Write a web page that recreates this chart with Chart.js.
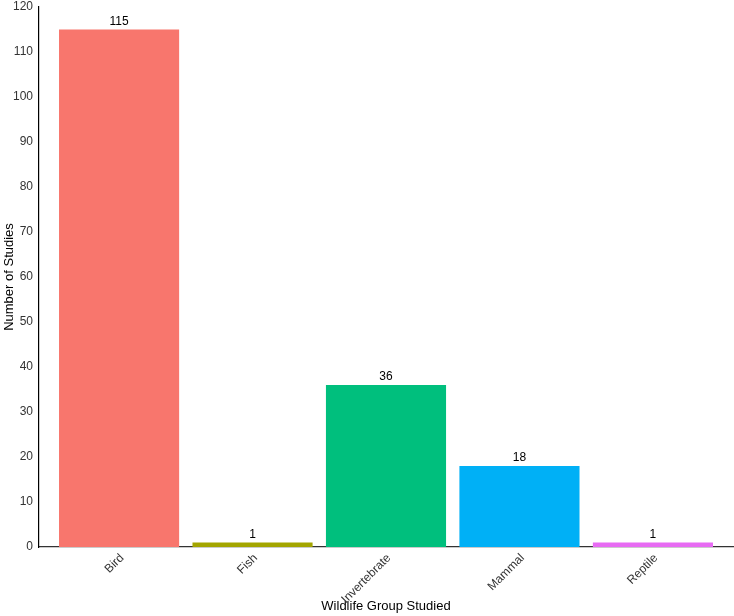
<!DOCTYPE html>
<html>
<head>
<meta charset="utf-8">
<script src="https://cdn.jsdelivr.net/npm/chart.js@4"></script>
<style>
  html, body { margin: 0; padding: 0; background: #fff; }
  #wrap { width: 734px; height: 616px; }
</style>
</head>
<body>
<div id="wrap"><canvas id="myChart"></canvas></div>
<script>
// wildlife groups and study counts
const groups = ['Bird', 'Fish', 'Invertebrate', 'Mammal', 'Reptile'];
const studies = [115, 1, 36, 18, 1];
const groupColors = ['#F8766D', '#A3A500', '#00BF7D', '#00B0F6', '#E76BF3'];
const yTicks = [0, 10, 20, 30, 40, 50, 60, 70, 80, 90, 100, 110, 120];

// value labels above each bar
const barLabels = {
    id: 'barLabels',
    afterDatasetsDraw(chart) {
        const ctx = chart.ctx;
        const meta = chart.getDatasetMeta(0);
        ctx.save();
        ctx.font = '12px "Liberation Sans", Arial, sans-serif';
        ctx.fillStyle = '#000';
        ctx.textAlign = 'center';
        ctx.textBaseline = 'bottom';
        meta.data.forEach((bar, i) => {
            ctx.fillText(String(studies[i]), bar.x, bar.y - 2);
        });
        ctx.restore();
    }
};

const ctx = document.getElementById('myChart').getContext('2d');
new Chart(ctx, {
    type: 'bar',
    data: {
        datasets: [{
            label: 'Number of Studies',
            data: groups.map((g, i) => ({ x: i + 1, y: studies[i] })),
            backgroundColor: groupColors,
            borderWidth: 0,
            categoryPercentage: 1,
            barPercentage: 0.9
        }]
    },
    options: {
        responsive: true,
        maintainAspectRatio: false,
        animation: false,
        layout: { padding: { top: 7, right: 1, left: 2, bottom: 0 } },
        plugins: {
            legend: { display: false },
            tooltip: { enabled: false }
        },
        scales: {
            x: {
                type: 'linear',
                min: 0.4,
                max: 5.6,
                offset: false,
                grid: { display: false, drawTicks: false },
                border: { display: true, color: '#333', width: 1.2 },
                afterBuildTicks: scale => {
                    scale.ticks = groups.map((g, i) => ({ value: i + 1 }));
                },
                afterFit: scale => { scale.height = 69; },
                ticks: {
                    autoSkip: false,
                    minRotation: 45,
                    maxRotation: 45,
                    padding: 4,
                    labelOffset: 3,
                    color: '#333',
                    font: { family: '"Liberation Sans", Arial, sans-serif', size: 12 },
                    callback: value => groups[value - 1]
                },
                title: {
                    display: true,
                    text: 'Wildlife Group Studied',
                    color: '#000',
                    font: { family: '"Liberation Sans", Arial, sans-serif', size: 13 },
                    padding: { top: 0, bottom: 2 }
                }
            },
            y: {
                min: 0,
                max: 120,
                afterBuildTicks: scale => {
                    scale.ticks = yTicks.map(v => ({ value: v }));
                },
                afterFit: scale => {
                    scale.width = 37;
                    scale.paddingTop = 0;
                },
                grid: { display: false, drawTicks: false },
                border: { display: true, color: '#000', width: 1.2 },
                ticks: {
                    padding: 6,
                    color: '#333',
                    font: { family: '"Liberation Sans", Arial, sans-serif', size: 12 }
                },
                title: {
                    display: true,
                    text: 'Number of Studies',
                    color: '#000',
                    font: { family: '"Liberation Sans", Arial, sans-serif', size: 13 },
                    padding: { top: 0, bottom: 2 }
                }
            }
        }
    },
    plugins: [barLabels]
});
</script>
</body>
</html>
